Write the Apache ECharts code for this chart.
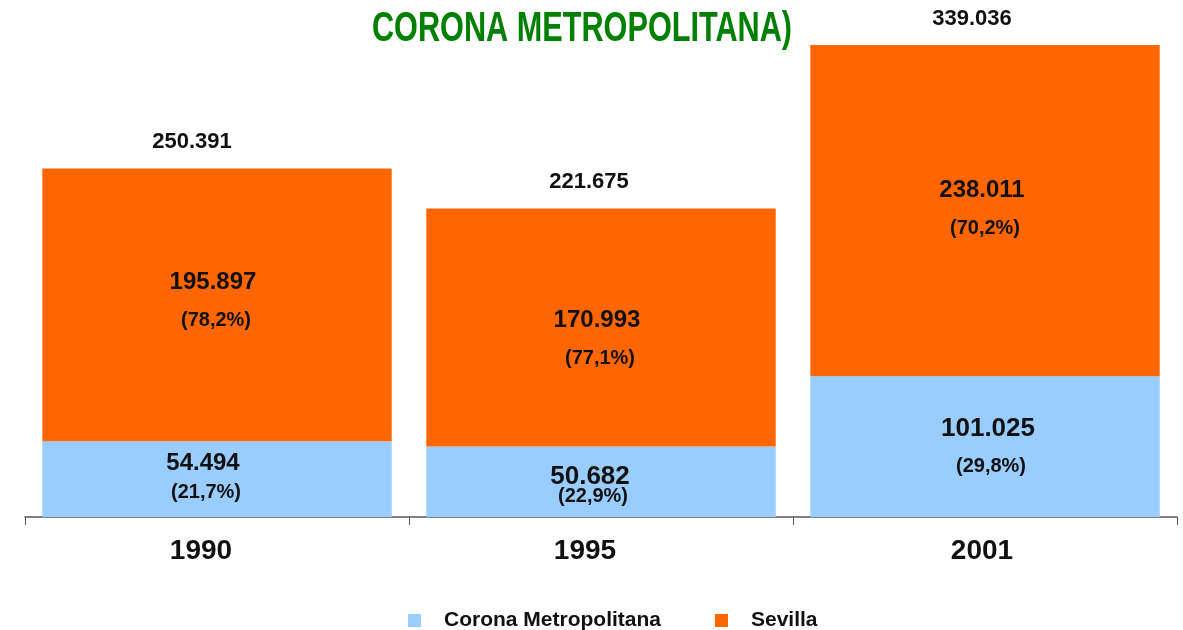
<!DOCTYPE html>
<html>
<head>
<meta charset="utf-8">
<script src="https://cdn.jsdelivr.net/npm/echarts@6/dist/echarts.min.js"></script>
<style>
  html,body{margin:0;padding:0;background:#fff;}
  #main{width:1183px;height:630px;}
</style>
</head>
<body>
<div id="main"></div>
<script>
// datos
var years = ['1990', '1995', '2001'];
var corona = [54494, 50682, 101025];
var coronaPct = ['21,7', '22,9', '29,8'];
var sevilla = [195897, 170993, 238011];
var sevillaPct = ['78,2', '77,1', '70,2'];
var totales = [250391, 221675, 339036];

// ajuste de etiquetas (x, y, interlineado, tamaño)
var coronaLbl = [[-14, -1, 29, 24], [-11, 5, 20, 26], [3, 1, 37, 26]];
var sevillaLbl = [[-4, -3, 38, 24], [-4, 12, 38, 24], [-3, -1, 38, 24]];
var totalDx = [-25, -12, -13];
var yearDx = [-16, -16, -3];

var FONT = 'Liberation Sans, Arial, sans-serif';

function fmt(n) {
  return String(n).replace(/\B(?=(\d{3})+(?!\d))/g, '.');
}

function buildData(vals, pcts, lbl) {
  return vals.map(function (v, i) {
    var l = lbl[i];
    return {
      value: v,
      label: {
        offset: [l[0], l[1]],
        formatter: '{v|' + fmt(v) + '}\n{p|(' + pcts[i] + '%)}',
        rich: {
          v: { fontSize: l[3], fontWeight: 'bold', color: '#111', lineHeight: l[2], fontFamily: FONT },
          p: { fontSize: 20, fontWeight: 'bold', color: '#111', lineHeight: l[2], fontFamily: FONT, padding: [0, 0, 0, 6] }
        }
      }
    };
  });
}

var myChart = echarts.init(document.getElementById('main'));
myChart.setOption({
  animation: false,
  graphic: [{
    type: 'text',
    x: 582,
    y: 29,
    scaleX: 0.73,
    style: {
      text: 'CORONA METROPOLITANA)',
      fill: '#008000',
      font: 'bold 42px ' + FONT,
      textAlign: 'center',
      textVerticalAlign: 'middle'
    }
  }],
  legend: {
    top: 605,
    left: 403,
    itemWidth: 13,
    itemHeight: 13,
    itemGap: 54,
    icon: 'rect',
    data: ['Corona Metropolitana', 'Sevilla'],
    textStyle: {
      fontSize: 21,
      fontWeight: 'bold',
      color: '#111',
      fontFamily: FONT,
      padding: [0, 0, 0, 18]
    }
  },
  grid: { left: 25, right: 6, top: 45, bottom: 113 },
  xAxis: {
    type: 'category',
    data: years,
    axisLine: { lineStyle: { color: '#555', width: 1.5 } },
    axisTick: { show: true, length: 8, lineStyle: { color: '#555' } },
    axisLabel: {
      margin: 20,
      fontSize: 28,
      fontWeight: 'bold',
      color: '#111',
      fontFamily: FONT,
      formatter: function (v, i) {
        return '{y' + i + '|' + v + '}';
      },
      rich: {
        y0: { fontSize: 28, fontWeight: 'bold', color: '#111', fontFamily: FONT, padding: [0, -yearDx[0] * 2, 0, 0] },
        y1: { fontSize: 28, fontWeight: 'bold', color: '#111', fontFamily: FONT, padding: [0, -yearDx[1] * 2, 0, 0] },
        y2: { fontSize: 28, fontWeight: 'bold', color: '#111', fontFamily: FONT, padding: [0, -yearDx[2] * 2, 0, 0] }
      }
    }
  },
  yAxis: {
    type: 'value',
    min: 0,
    max: 339036,
    show: false,
    splitLine: { show: false }
  },
  series: [
    {
      name: 'Corona Metropolitana',
      type: 'bar',
      stack: 'total',
      barCategoryGap: '9%',
      itemStyle: { color: '#99CCFF' },
      label: { show: true, position: 'inside' },
      data: buildData(corona, coronaPct, coronaLbl)
    },
    {
      name: 'Sevilla',
      type: 'bar',
      stack: 'total',
      barCategoryGap: '9%',
      itemStyle: { color: '#FF6600' },
      label: { show: true, position: 'inside' },
      data: buildData(sevilla, sevillaPct, sevillaLbl)
    },
    {
      name: 'Total',
      type: 'bar',
      barGap: '-100%',
      barCategoryGap: '9%',
      silent: true,
      itemStyle: { color: 'rgba(0,0,0,0)' },
      label: {
        show: true,
        position: 'top',
        distance: 15,
        fontSize: 22,
        fontWeight: 'bold',
        color: '#111',
        fontFamily: FONT,
        formatter: function (p) { return fmt(p.value); }
      },
      data: totales.map(function (v, i) {
        return { value: v, label: { offset: [totalDx[i], 0] } };
      })
    }
  ]
});
</script>
</body>
</html>
